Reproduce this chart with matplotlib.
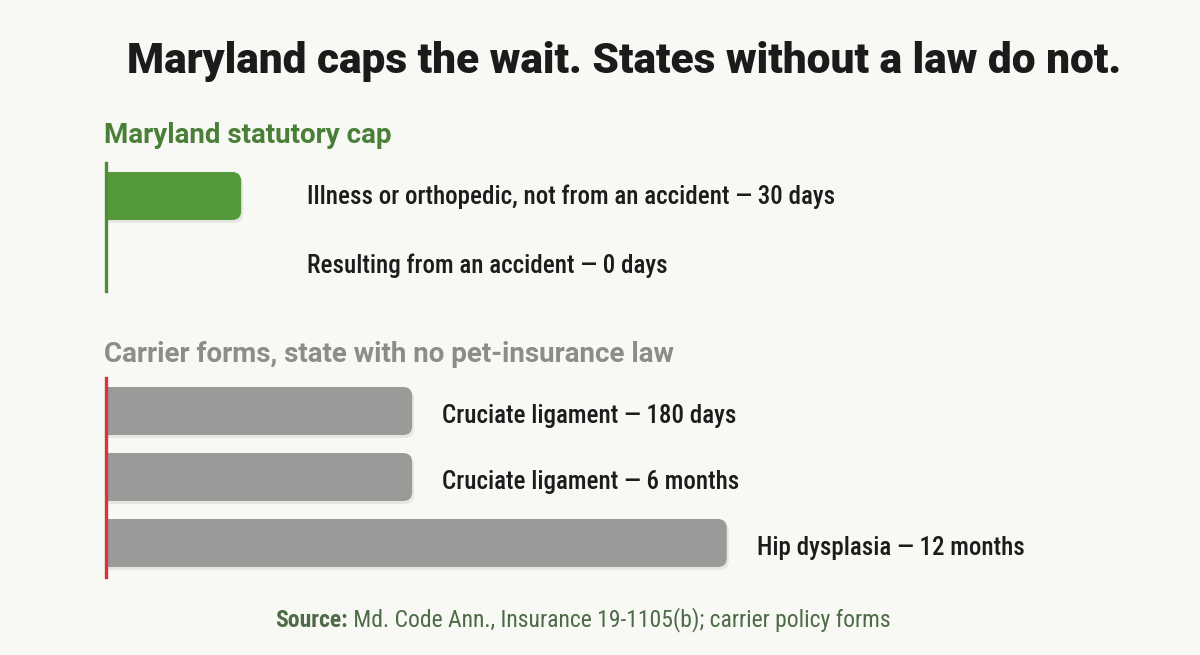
import matplotlib
matplotlib.use('Agg')
import matplotlib.pyplot as plt
from matplotlib.patches import FancyBboxPatch

md_labels = ['Illness or orthopedic, not from an accident \u2014 30 days',
             'Resulting from an accident \u2014 0 days']
md_days = [30, 0]

carrier_labels = ['Cruciate ligament \u2014 180 days',
                  'Cruciate ligament \u2014 6 months',
                  'Hip dysplasia \u2014 12 months']
carrier_days = [180, 180, 365]

title = 'Maryland caps the wait. States without a law do not.'
md_header = 'Maryland statutory cap'
carrier_header = 'Carrier forms, state with no pet-insurance law'
source_bold = 'Source:'
source_rest = ' Md. Code Ann., Insurance 19-1105(b); carrier policy forms'

plt.rcParams['font.family'] = ['Roboto', 'DejaVu Sans']
COND = ['Roboto Condensed', 'Roboto', 'DejaVu Sans']

W, H = 1200, 655
BG = '#f8f8f4'
fig = plt.figure(figsize=(12, 6.55), dpi=100)
fig.patch.set_facecolor(BG)


def px_axes(x0, y0, x1, y1):
    ax = fig.add_axes([x0 / W, 1 - y1 / H, (x1 - x0) / W, (y1 - y0) / H])
    ax.set_facecolor('none')
    for s in ax.spines.values():
        s.set_visible(False)
    ax.set_xticks([])
    ax.set_yticks([])
    return ax


def draw_bars(ax, vals, color, xmax, ylim, width_px, height_px, bar_h):
    ax.set_xlim(0, xmax)
    ax.set_ylim(*ylim)
    xpu = xmax / width_px
    ypu = abs(ylim[0] - ylim[1]) / height_px
    r = 9 * xpu
    for i, v in enumerate(vals):
        if v <= 0:
            continue
        # soft shadow
        sh = FancyBboxPatch((-2 * r, i - bar_h / 2 + 3 * ypu), v + 2 * r + 2 * xpu, bar_h,
                            boxstyle='round,pad=0,rounding_size=%f' % r,
                            mutation_aspect=ypu / xpu, fc='black', ec='none', alpha=0.07)
        ax.add_patch(sh)
        p = FancyBboxPatch((-2 * r, i - bar_h / 2), v + 2 * r, bar_h,
                           boxstyle='round,pad=0,rounding_size=%f' % r,
                           mutation_aspect=ypu / xpu, fc=color, ec='none')
        ax.add_patch(p)


# title and section headers
fig.text(624 / W, 1 - 73 / H, title, ha='center', va='baseline', fontsize=30.5,
         fontweight='black', color='#1b1b1b')
fig.text(104 / W, 1 - 143 / H, md_header, ha='left', va='baseline', fontsize=20,
         fontweight='bold', color='#4a7f38')
fig.text(104 / W, 1 - 362 / H, carrier_header, ha='left', va='baseline', fontsize=20,
         fontweight='bold', color='#8c8c8a')

# Maryland panel
ax1 = px_axes(106, 163, 1106, 291)
draw_bars(ax1, md_days, '#559a3a', 222, (1.377, -0.478), 1000, 128, 0.696)
ax1.axvline(0, color='#4e8c37', lw=2.4, clip_on=False)
for i, lab in enumerate(md_labels):
    ax1.annotate(lab, (max(md_days), i), xytext=(66, -8), textcoords='offset pixels',
                 ha='left', va='baseline', fontsize=18, fontweight='medium',
                 family=COND, color='#1c1c1c')

# carrier panel
ax2 = px_axes(106, 378, 1106, 577)
draw_bars(ax2, carrier_days, '#9a9a98', 588, (2.515, -0.5), 1000, 199, 0.727)
ax2.axvline(0, color='#d8343d', lw=2.4, clip_on=False)
for i, (lab, v) in enumerate(zip(carrier_labels, carrier_days)):
    ax2.annotate(lab, (v, i), xytext=(30, -12), textcoords='offset pixels',
                 ha='left', va='baseline', fontsize=18, fontweight='medium',
                 family=COND, color='#1c1c1c')

# source line
src = fig.text(275 / W, 1 - 627 / H, source_bold, ha='left', va='baseline', fontsize=17,
               fontweight='bold', family=COND, color='#4d6b47')
plt.annotate(source_rest, xy=(1, 0), xycoords=src, ha='left', va='bottom',
             fontsize=17, family=COND, color='#4d6b47', annotation_clip=False)

plt.savefig('out.png', dpi=100, facecolor=BG)
